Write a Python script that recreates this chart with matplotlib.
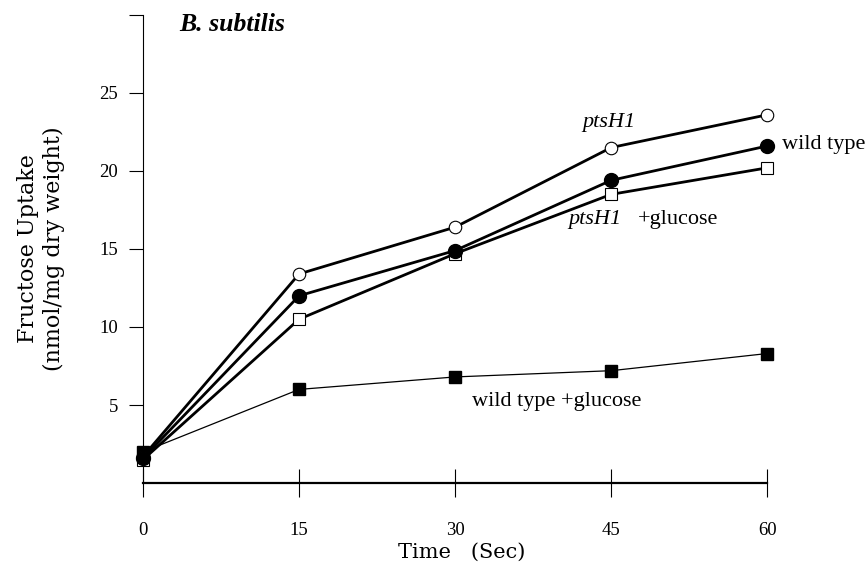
import matplotlib
matplotlib.use("Agg")
import matplotlib.pyplot as plt

plt.rcParams['font.family'] = ['Liberation Serif', 'DejaVu Serif']

# Data
time = [0, 15, 30, 45, 60]
pts_h1 = [1.7, 13.4, 16.4, 21.5, 23.6]
wild_type = [1.6, 12.0, 14.9, 19.4, 21.6]
pts_h1_glc = [1.5, 10.5, 14.7, 18.5, 20.2]
wild_type_glc = [2.0, 6.0, 6.8, 7.2, 8.3]

fig = plt.figure(figsize=(8.67, 5.73), dpi=100)
ax = fig.add_axes([0.165, 0.157, 0.72, 0.817])

ax.plot(time, wild_type_glc, color='black', lw=0.9, marker='s', ms=8.5,
        mfc='black', mec='black', clip_on=False, zorder=3)
ax.plot(time, pts_h1, color='black', lw=2, marker='o', ms=9,
        mfc='white', mec='black', mew=0.8, clip_on=False, zorder=4)
ax.plot(time, pts_h1_glc, color='black', lw=2, marker='s', ms=8.5,
        mfc='white', mec='black', mew=0.8, clip_on=False, zorder=4)
ax.plot(time, wild_type, color='black', lw=2, marker='o', ms=10,
        mfc='black', mec='black', clip_on=False, zorder=5)

ax.set_xlim(0, 60)
ax.set_ylim(0, 30)
ax.set_xticks(time)
ax.set_yticks([5, 10, 15, 20, 25, 30])
ax.set_yticklabels(['5', '10', '15', '20', '25', ''])

ax.spines['top'].set_visible(False)
ax.spines['right'].set_visible(False)
ax.spines['left'].set_linewidth(0.8)
ax.spines['bottom'].set_linewidth(1.6)
ax.tick_params(axis='x', direction='inout', length=20, width=0.8, pad=18, labelsize=13.5)
ax.tick_params(axis='y', direction='out', length=10, width=0.8, pad=8, labelsize=13.5)

ax.set_xlabel('Time   (Sec)', fontsize=15, family='DejaVu Serif')
ax.xaxis.set_label_coords(0.51, -0.128)
ax.set_ylabel('Fructose Uptake\n(nmol/mg dry weight)', fontsize=16,
              family='DejaVu Serif', linespacing=1.25)
ax.yaxis.set_label_coords(-0.125, 0.5)

ax.text(3.5, 29.4, 'B. subtilis', fontsize=18.5, fontweight='bold', style='italic',
        va='center')
ax.text(42.2, 23.1, 'ptsH1', fontsize=16, style='italic', va='center')
ax.text(61.4, 21.7, 'wild type', fontsize=16, va='center')
ax.text(40.9, 16.9, 'ptsH1', fontsize=16, style='italic', va='center')
ax.text(47.6, 16.9, '+glucose', fontsize=16, va='center')
ax.text(31.6, 5.2, 'wild type +glucose', fontsize=16, va='center')

fig.savefig('out.png', dpi=100)
